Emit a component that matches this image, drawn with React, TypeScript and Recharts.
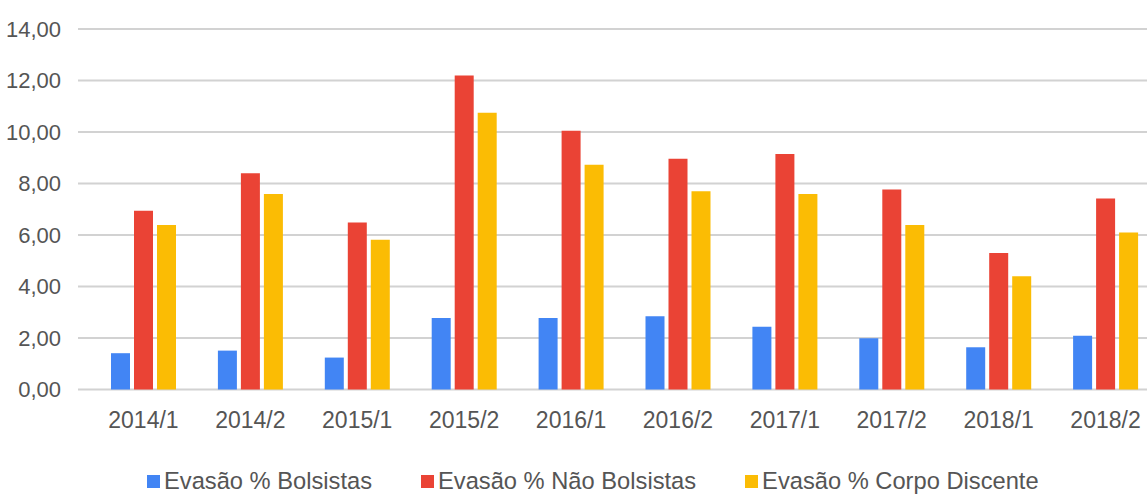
import React from "react"
import { BarChart, Bar, XAxis, YAxis, CartesianGrid } from "recharts"

const periods = [
  "2014/1", "2014/2", "2015/1", "2015/2", "2016/1",
  "2016/2", "2017/1", "2017/2", "2018/1", "2018/2",
]
const bolsistas = [1.41, 1.51, 1.24, 2.78, 2.78, 2.84, 2.44, 1.99, 1.64, 2.09]
const naoBolsistas = [6.94, 8.4, 6.49, 12.19, 10.05, 8.96, 9.15, 7.77, 5.3, 7.42]
const corpoDiscente = [6.39, 7.59, 5.82, 10.75, 8.73, 7.7, 7.59, 6.39, 4.4, 6.1]
const yTicks = [0, 2, 4, 6, 8, 10, 12, 14]

const series = [
  { key: "bolsistas", name: "Evasão % Bolsistas", color: "#4285F4" },
  { key: "naoBolsistas", name: "Evasão % Não Bolsistas", color: "#EA4335" },
  { key: "corpoDiscente", name: "Evasão % Corpo Discente", color: "#FBBC04" },
]

const data = periods.map((p, i) => ({
  period: p,
  bolsistas: bolsistas[i],
  naoBolsistas: naoBolsistas[i],
  corpoDiscente: corpoDiscente[i],
}))

const font = "Arial, 'Liberation Sans', sans-serif"
const textColor = "#555555"

const fmt = (v: number) => v.toFixed(2).replace(".", ",")

export default function App() {
  return (
    <div
      style={{
        position: "absolute",
        top: 0,
        left: 0,
        width: 1147,
        height: 494,
        overflow: "hidden",
        background: "#fff",
        fontFamily: font,
      }}
    >
      <BarChart
        width={1170}
        height={494}
        data={data}
        margin={{ top: 29, right: 11, left: 0, bottom: 0 }}
        barSize={19}
        barGap={4}
      >
        <CartesianGrid
          vertical={false}
          horizontal={(p: any) => (
            <line
              key={`h-${p.index}-${p.y1}`}
              x1={p.x1 - 12}
              x2={p.x2}
              y1={p.y1}
              y2={p.y2}
              stroke="#d2d2d2"
              strokeWidth={2}
            />
          )}
        />
        <XAxis
          dataKey="period"
          height={104.5}
          axisLine={false}
          tickLine={false}
          tickSize={0}
          tickMargin={22}
          interval={0}
          tick={{ fontSize: 23, fill: textColor, fontFamily: font }}
        />
        <YAxis
          width={90}
          domain={[0, 14]}
          ticks={yTicks}
          tickFormatter={fmt}
          axisLine={false}
          tickLine={false}
          tickSize={0}
          tickMargin={29}
          tick={{ fontSize: 22, fill: textColor, fontFamily: font }}
        />
        {series.map((s) => (
          <Bar
            key={s.key}
            dataKey={s.key}
            name={s.name}
            fill={s.color}
            isAnimationActive={false}
          />
        ))}
      </BarChart>
      <div
        style={{
          position: "absolute",
          left: 147,
          top: 468,
          display: "flex",
          alignItems: "center",
          gap: 49,
          fontSize: 23.7,
          color: textColor,
          whiteSpace: "nowrap",
        }}
      >
        {series.map((s) => (
          <div key={s.key} style={{ display: "flex", alignItems: "center" }}>
            <span
              style={{
                display: "inline-block",
                width: 13,
                height: 13,
                background: s.color,
                marginRight: 4,
              }}
            />
            <span>{s.name}</span>
          </div>
        ))}
      </div>
    </div>
  )
}
